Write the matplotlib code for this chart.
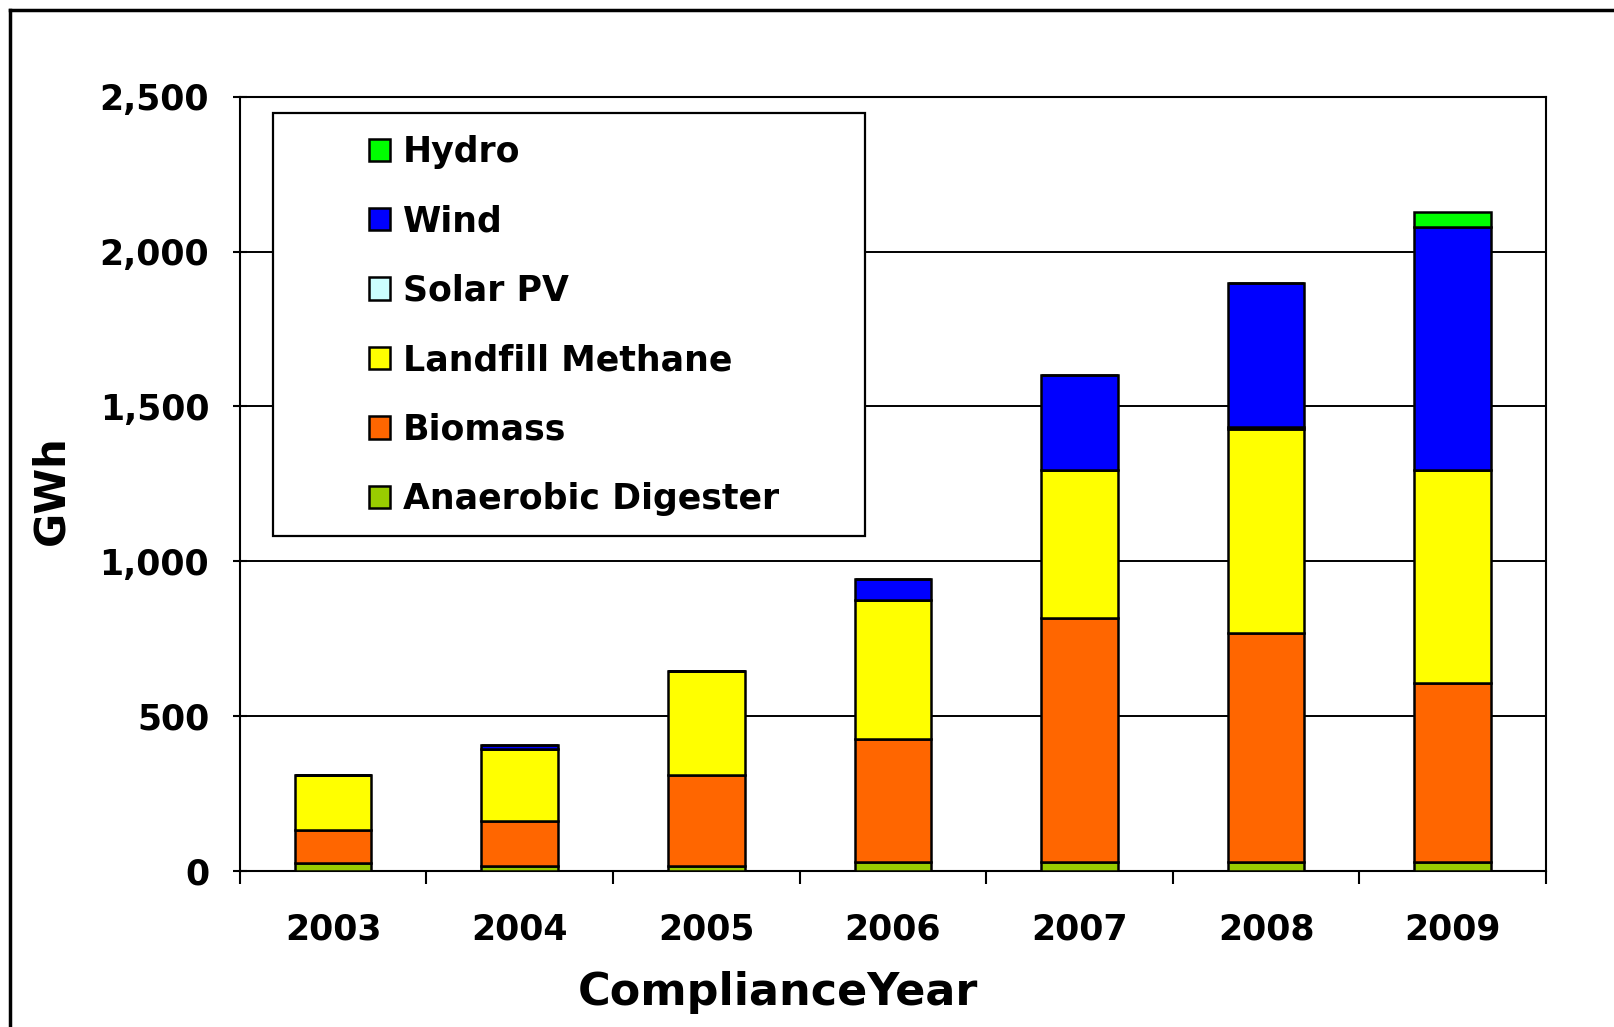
import matplotlib
matplotlib.use("Agg")
import matplotlib.pyplot as plt
from matplotlib.patches import Rectangle
from matplotlib.lines import Line2D
from matplotlib.ticker import FuncFormatter, FixedLocator
import numpy as np

plt.rcParams['font.family'] = ['DejaVu Sans']
plt.rcParams['font.weight'] = 'bold'

years = ["2003", "2004", "2005", "2006", "2007", "2008", "2009"]
anaerobic = [25, 15, 15, 28, 28, 28, 28]
biomass = [107, 146, 294, 397, 790, 740, 580]
landfill = [177, 234, 336, 449, 475, 659, 685]
solar_pv = [0, 0, 0, 0, 0, 8, 0]
wind = [0, 10, 0, 67, 309, 463, 786]
hydro = [0, 0, 0, 0, 0, 0, 48]

series = [
    ("Anaerobic Digester", anaerobic, "#99CC00"),
    ("Biomass", biomass, "#FF6600"),
    ("Landfill Methane", landfill, "#FFFF00"),
    ("Solar PV", solar_pv, "#CCFFFF"),
    ("Wind", wind, "#0000FF"),
    ("Hydro", hydro, "#00FF00"),
]

W, H = 1614, 1027
fig = plt.figure(figsize=(W / 100, H / 100), dpi=100)
ax = fig.add_axes([239.8 / W, 1 - 870.8 / H, 1306.2 / W, 774 / H])

x = np.arange(len(years))
bottom = np.zeros(len(years))
handles = []
for name, vals, color in series:
    v = np.array(vals, dtype=float)
    b = ax.bar(x, v, width=0.41, bottom=bottom, color=color, edgecolor="black",
               linewidth=1.8, zorder=3, label=name)
    bottom += v
    handles.append(b)

ax.set_xlim(-0.5, len(years) - 0.5)
ax.set_ylim(0, 2500)
ax.set_yticks(np.arange(0, 2501, 500))
ax.yaxis.set_major_formatter(FuncFormatter(lambda v, p: f"{int(v):,}"))
ax.yaxis.grid(True, color="black", linewidth=1.4, zorder=0)
ax.set_axisbelow(True)

ax.set_xticks(x)
ax.set_xticklabels(years)
ax.xaxis.set_minor_locator(FixedLocator(np.arange(-0.5, len(years), 1.0)))
ax.tick_params(axis="x", which="major", length=0, pad=30, labelsize=25)
ax.tick_params(axis="x", which="minor", length=9, width=1.5, direction="out")
ax.tick_params(axis="y", which="major", length=10, width=1.5, direction="inout", pad=17, labelsize=25)
for lab in ax.get_xticklabels() + ax.get_yticklabels():
    lab.set_fontweight("bold")
for s in ax.spines.values():
    s.set_linewidth(1.5)
    s.set_color("black")

# legend frame
ax.add_patch(Rectangle((0.0253, 0.4322), 0.4783 - 0.0253, 0.9788 - 0.4322,
                       transform=ax.transAxes, facecolor="white", edgecolor="black",
                       linewidth=1.6, zorder=5))
leg = ax.legend(handles[::-1], [s[0] for s in series][::-1], frameon=False,
                loc="upper left", bbox_to_anchor=((368.5 - 239.8) / 1306.2, (870.8 - 135) / 774),
                borderpad=0, borderaxespad=0, handlelength=0.62, handleheight=0.62,
                handletextpad=0.38, labelspacing=1.02,
                prop={"weight": "bold", "size": 25})
leg.set_zorder(6)

fig.text(778 / W, 1 - 1005 / H, "ComplianceYear", ha="center", va="baseline",
         fontsize=32, fontweight="bold")
fig.text(51 / W, 1 - 490 / H, "GWh", ha="center", va="center", rotation=90,
         fontsize=30, fontweight="bold")

# outer border (left and top visible)
fig.add_artist(Line2D([10 / W, 10 / W], [-0.1, 1 - 10 / H], transform=fig.transFigure,
                      color="black", linewidth=2.5))
fig.add_artist(Line2D([10 / W, 1.1], [1 - 10 / H, 1 - 10 / H], transform=fig.transFigure,
                      color="black", linewidth=2.5))

fig.savefig("out.png", dpi=100)
